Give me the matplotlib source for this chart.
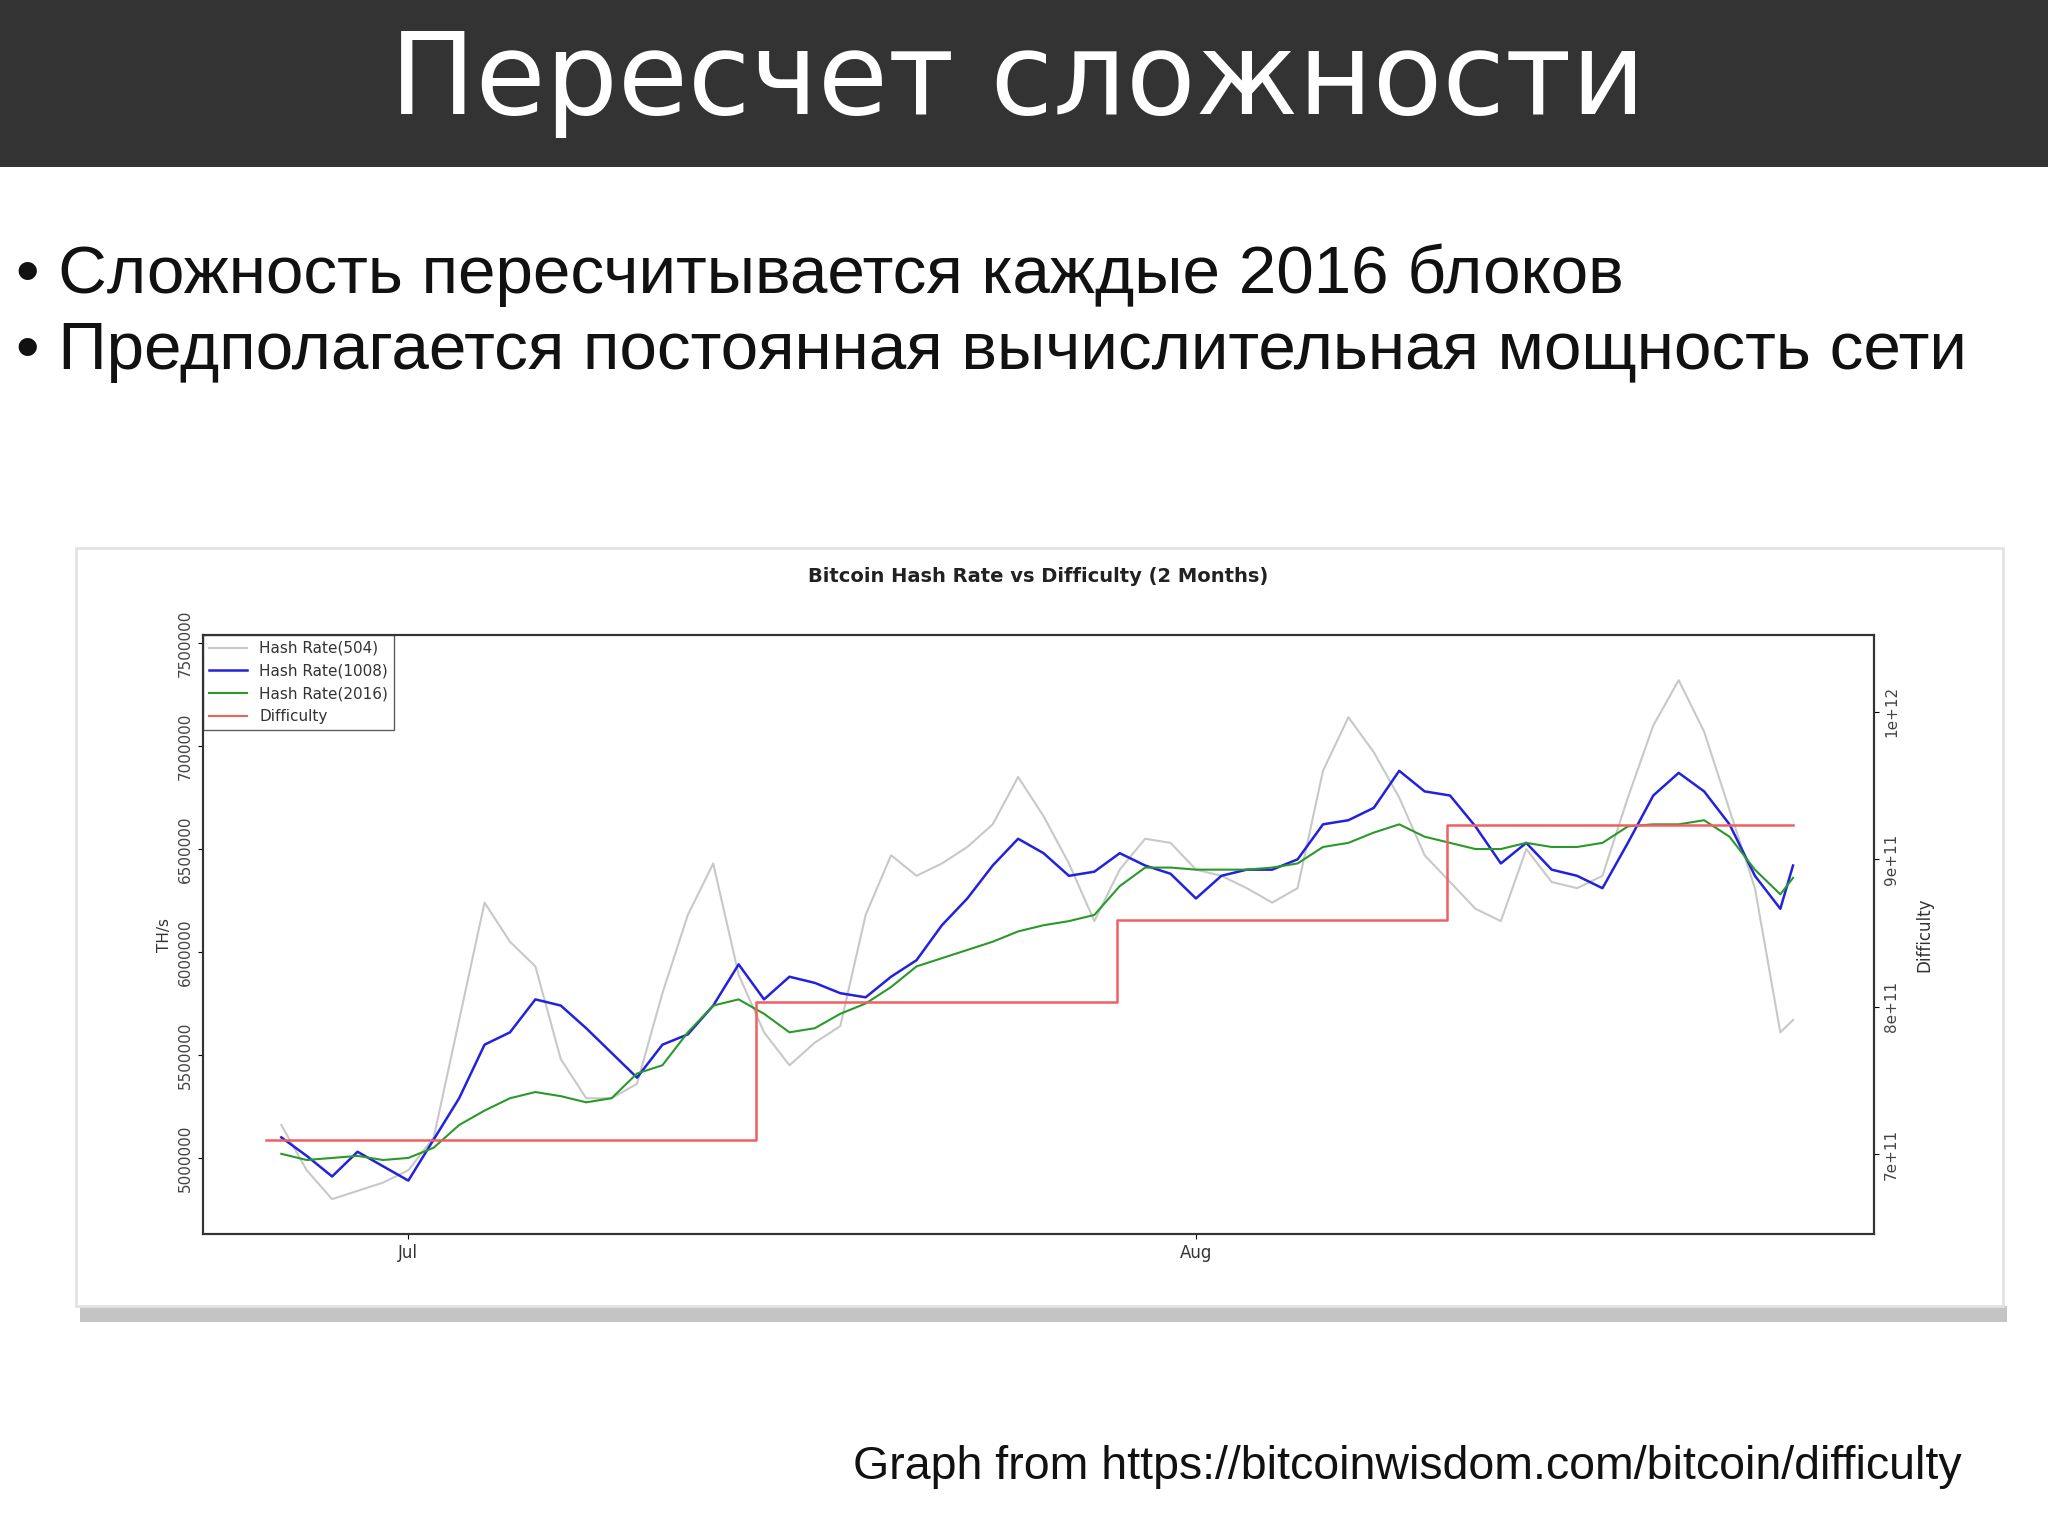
import numpy as np
import matplotlib
matplotlib.use('Agg')
import matplotlib.pyplot as plt
from matplotlib.patches import Rectangle

# === Data (days relative to 1 Jul, hash rate in TH/s millions) ===
days = [-5, -4, -3, -2, -1, 0, 1, 2, 3, 4, 5, 6, 7, 8, 9, 10, 11, 12, 13, 14, 15, 16, 17, 18, 19,
        20, 21, 22, 23, 24, 25, 26, 27, 28, 29, 30, 31, 32, 33, 34, 35, 36, 37, 38, 39, 40, 41, 42,
        43, 44, 45, 46, 47, 48, 49, 50, 51, 52, 53, 54, 54.5]
hash_504 = [5.16, 4.94, 4.80, 4.84, 4.88, 4.94, 5.10, 5.67, 6.24, 6.05, 5.93, 5.48, 5.29, 5.29, 5.36,
            5.80, 6.18, 6.43, 5.89, 5.61, 5.45, 5.56, 5.64, 6.18, 6.47, 6.37, 6.43, 6.51, 6.62, 6.85,
            6.66, 6.43, 6.15, 6.40, 6.55, 6.53, 6.40, 6.37, 6.31, 6.24, 6.31, 6.88, 7.14, 6.97, 6.75,
            6.47, 6.34, 6.21, 6.15, 6.50, 6.34, 6.31, 6.37, 6.75, 7.10, 7.32, 7.07, 6.69, 6.31, 5.61, 5.67]
hash_1008 = [5.10, 5.01, 4.91, 5.03, 4.96, 4.89, 5.09, 5.29, 5.55, 5.61, 5.77, 5.74, 5.63, 5.51, 5.39,
             5.55, 5.60, 5.74, 5.94, 5.77, 5.88, 5.85, 5.80, 5.78, 5.88, 5.96, 6.13, 6.26, 6.42, 6.55,
             6.48, 6.37, 6.39, 6.48, 6.42, 6.38, 6.26, 6.37, 6.40, 6.40, 6.45, 6.62, 6.64, 6.70, 6.88,
             6.78, 6.76, 6.61, 6.43, 6.53, 6.40, 6.37, 6.31, 6.53, 6.76, 6.87, 6.78, 6.62, 6.37, 6.21, 6.42]
hash_2016 = [5.02, 4.99, 5.00, 5.01, 4.99, 5.00, 5.05, 5.16, 5.23, 5.29, 5.32, 5.30, 5.27, 5.29, 5.41,
             5.45, 5.61, 5.74, 5.77, 5.70, 5.61, 5.63, 5.70, 5.75, 5.83, 5.93, 5.97, 6.01, 6.05, 6.10,
             6.13, 6.15, 6.18, 6.32, 6.41, 6.41, 6.40, 6.40, 6.40, 6.41, 6.43, 6.51, 6.53, 6.58, 6.62,
             6.56, 6.53, 6.50, 6.50, 6.53, 6.51, 6.51, 6.53, 6.61, 6.62, 6.62, 6.64, 6.56, 6.40, 6.28, 6.36]
diff_days = [-5.6, 13.7, 27.9, 40.9, 54.5]
diff_vals = [7.10e11, 8.03e11, 8.59e11, 9.23e11]

title = 'Пересчет сложности'
bullets = ['• Сложность пересчитывается каждые 2016 блоков',
           '• Предполагается постоянная вычислительная мощность сети']
source = 'Graph from https://bitcoinwisdom.com/bitcoin/difficulty'

fig = plt.figure(figsize=(20.48, 15.35), dpi=100)
fig.patch.set_facecolor('white')

# Title bar
fig.patches.append(Rectangle((0, 0.891), 1, 0.109, transform=fig.transFigure,
                             facecolor='#333333', edgecolor='none', zorder=-3))
fig.text(0.497, 0.946, title, color='white', fontsize=82, ha='center', va='center',
         family='DejaVu Sans')
for i, b in enumerate(bullets):
    fig.text(0.008, 0.821 - i * 0.05, b, fontsize=48.5, ha='left', va='center',
             family='Liberation Sans', color='#111111')
fig.text(0.958, 0.044, source, fontsize=33.5, ha='right', va='center',
         family='Liberation Sans', color='#111111')

# Chart panel with shadow
fig.patches.append(Rectangle((0.039, 0.139), 0.941, 0.01, transform=fig.transFigure,
                             facecolor='#c4c4c4', edgecolor='none', zorder=-2))
fig.patches.append(Rectangle((0.037, 0.149), 0.941, 0.494, transform=fig.transFigure,
                             facecolor='white', edgecolor='#e2e2e2', lw=2, zorder=-1))

ax = fig.add_axes([0.0989, 0.196, 0.8163, 0.3904])
ax.plot(days, hash_504, color='#c8c8c8', lw=1.5, label='Hash Rate(504)')
ax.plot(days, hash_1008, color='#2222dd', lw=1.8, label='Hash Rate(1008)')
ax.plot(days, hash_2016, color='#2a992a', lw=1.5, label='Hash Rate(2016)')
ax.plot([], [], color='#f06060', lw=1.5, label='Difficulty')
ax.set_xlim(-8.1, 57.7)
ax.set_ylim(4.63, 7.54)
ax.set_yticks([5.0, 5.5, 6.0, 6.5, 7.0, 7.5])
ax.set_yticklabels(['5000000', '5500000', '6000000', '6500000', '7000000', '7500000'],
                   rotation=90, va='center', fontsize=11, color='#444444')
ax.set_xticks([0, 31])
ax.set_xticklabels(['Jul', 'Aug'], fontsize=12, color='#333333')
ax.set_ylabel('TH/s', fontsize=11, color='#333333')
ax.set_title('Bitcoin Hash Rate vs Difficulty (2 Months)', fontsize=14, fontweight='bold',
             color='#222222', pad=38)
for s in ax.spines.values():
    s.set_linewidth(1.5)
    s.set_color('#333333')
ax.legend(loc='upper left', fontsize=11, frameon=True, fancybox=False, edgecolor='#333333',
          borderaxespad=0, handlelength=2.5, labelcolor='#333333')

ax2 = ax.twinx()
ax2.step(diff_days, diff_vals + [diff_vals[-1]], where='post', color='#f06060', lw=1.8)
ax2.set_ylim(6.46e11, 1.052e12)
ax2.set_yticks([7e11, 8e11, 9e11, 1e12])
ax2.set_yticklabels(['7e+11', '8e+11', '9e+11', '1e+12'], rotation=90, va='center',
                    fontsize=11, color='#444444')
ax2.set_ylabel('Difficulty', fontsize=12, color='#333333', labelpad=12)
for s in ax2.spines.values():
    s.set_linewidth(1.5)
    s.set_color('#333333')

fig.savefig('out.png', dpi=100)
plt.close(fig)
